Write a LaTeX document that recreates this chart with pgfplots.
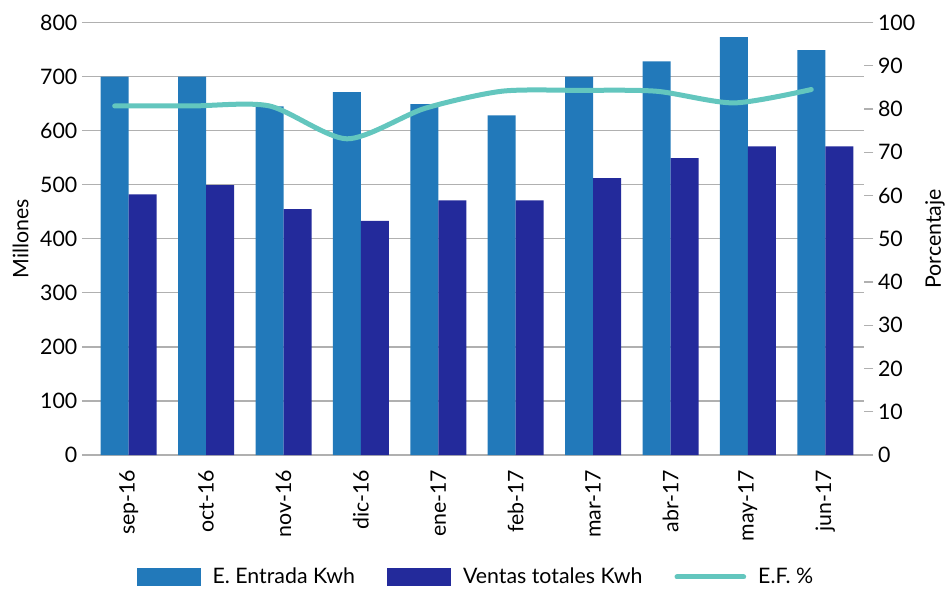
\documentclass[border=0pt]{standalone}
\usepackage{pgfplots}
\pgfplotsset{compat=1.18}
\usepackage{fontspec}
\setmainfont{Lato}
\definecolor{entrada}{HTML}{2279BA}
\definecolor{ventas}{HTML}{232A9B}
\definecolor{ef}{HTML}{63C6BE}
\definecolor{gridc}{HTML}{B0B0B0}
\newcommand{\ff}{\fontsize{16}{19}\selectfont}
\begin{document}
\begin{tikzpicture}
\useasboundingbox (-67.5pt,-101.25pt) rectangle (646.5pt,341.25pt);
\begin{axis}[
  at={(0pt,0pt)}, anchor=south west,
  scale only axis, width=580.5pt, height=324.4pt,
  xmin=-0.5, xmax=9.5, ymin=0, ymax=800,
  ybar=0pt, bar width=21pt,
  xtick={0,...,9},
  xticklabels={sep-16,oct-16,nov-16,dic-16,ene-17,feb-17,mar-17,abr-17,may-17,jun-17},
  xticklabel style={rotate=90, anchor=east},
  xticklabel shift=1.5pt,
  xtick style={draw=none},
  ytick={0,100,...,800},
  ymajorgrids, grid style={gridc, line width=1pt},
  axis x line*=bottom, axis y line*=left,
  x axis line style={gridc, line width=1pt, -},
  y axis line style={draw=none},
  ytick style={gridc, line width=1pt},
  tick align=outside, major tick length=6pt,
  tick label style={font=\ff},
  /pgf/number format/assume math mode=true,
  ylabel={Millones},
  every axis y label/.style={at={(axis description cs:-0.0898,0.5)}, anchor=center, rotate=90, font=\ff},
  legend style={at={(axis description cs:0.499,-0.282)}, anchor=center, draw=none, fill=none,
    legend columns=3, font=\ff,
    /tikz/every odd column/.append style={column sep=7pt},
    /tikz/every even column/.append style={column sep=22pt}},
  legend cell align=left,
]
\addplot[fill=entrada, draw=none,
  legend image code/.code={\fill[entrada] (0pt,-7pt) rectangle (48pt,7pt);}]
  coordinates {(0,700) (1,700) (2,645) (3,671) (4,649) (5,628) (6,700) (7,728) (8,773) (9,749)};
\addlegendentry{E. Entrada Kwh}
\addplot[fill=ventas, draw=none,
  legend image code/.code={\fill[ventas] (0pt,-7pt) rectangle (48pt,7pt);}]
  coordinates {(0,482) (1,499) (2,455) (3,433) (4,471) (5,471) (6,512) (7,549) (8,571) (9,571)};
\addlegendentry{Ventas totales Kwh}
\addlegendimage{legend image code/.code={\draw[ef, line width=3.75pt, line cap=round] (0pt,0pt) -- (50pt,0pt);}}
\addlegendentry{E.F. \%}
\end{axis}
\begin{axis}[
  at={(0pt,0pt)}, anchor=south west,
  scale only axis, width=580.5pt, height=324.4pt,
  xmin=-0.5, xmax=9.5, ymin=0, ymax=100,
  axis x line=none, axis y line*=right,
  ytick={0,10,...,100},
  y axis line style={draw=none},
  ytick style={gridc, line width=1pt},
  tick align=outside, major tick length=7pt,
  tick label style={font=\ff},
  /pgf/number format/assume math mode=true,
  ylabel={Porcentaje},
  every axis y label/.style={at={(axis description cs:1.0917,0.5)}, anchor=center, rotate=90, font=\ff},
]
\addplot[ef, line width=3.75pt, smooth, tension=0.45, line cap=round, line join=round]
  coordinates {(-0.181,80.7) (0.819,80.7) (1.819,80.7) (2.819,73.1) (3.819,80.1) (4.819,84.1) (5.819,84.3) (6.819,84.1) (7.819,81.4) (8.819,84.5)};
\end{axis}
\end{tikzpicture}
\end{document}
